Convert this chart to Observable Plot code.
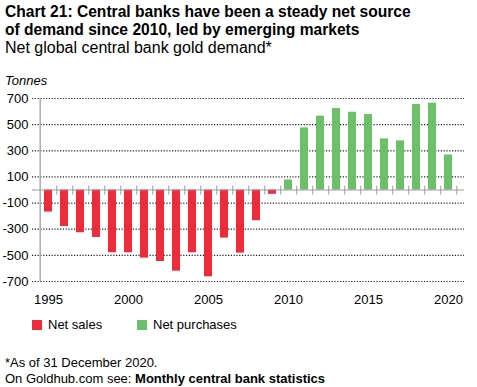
<!DOCTYPE html>
<html><head><meta charset="utf-8">
<script src="https://cdn.jsdelivr.net/npm/d3@7"></script>
<script src="https://cdn.jsdelivr.net/npm/@observablehq/plot@0.6"></script>
<style>
body{margin:0;background:#fff;font-family:"Liberation Sans",Arial,sans-serif;color:#000}
#wrap{position:relative;width:477px;height:387px;overflow:hidden}
.abs{position:absolute;white-space:nowrap}
#title{left:5px;top:3px;font-weight:bold;font-size:15.6px;line-height:17.5px}
#sub{left:5px;top:39px;font-size:16px}
#unit{left:5px;top:73px;font-size:13px;font-style:italic}
#chart{left:0;top:70px}
.leg{font-size:13px;top:317px}
.sw{display:inline-block;width:10px;height:10px;vertical-align:-1px;margin-right:6px}
#foot1{left:5px;top:355px;font-size:13px}
#foot2{left:5px;top:371px;font-size:13px}
</style></head>
<body><div id="wrap">
<div id="title" class="abs">Chart 21: Central banks have been a steady net source<br>of demand since 2010, led by emerging markets</div>
<div id="sub" class="abs">Net global central bank gold demand*</div>
<div id="unit" class="abs">Tonnes</div>
<div id="chart" class="abs"></div>
<div class="abs leg" style="left:32px"><span class="sw" style="background:#ee2a3d"></span>Net sales</div>
<div class="abs leg" style="left:137px"><span class="sw" style="background:#6cc06a"></span>Net purchases</div>
<div id="foot1" class="abs">*As of 31 December 2020.</div>
<div id="foot2" class="abs">On Goldhub.com see: <b>Monthly central bank statistics</b></div>
</div>
<script>
const years = d3.range(1995, 2021);
const demand = [-169,-279,-327,-363,-480,-480,-521,-547,-621,-480,-664,-368,-483,-235,-33,77,475,565,623,595,577,391,376,654,664,268];
const yTicks = [700,500,300,100,-100,-300,-500,-700];
const xLabels = [1995,2000,2005,2010,2015,2020];
const data = years.map((y,i)=>({year:y, value:demand[i]}));

const W = 477, H = 240, mL = 32, mR = 13;
const step = (W - mL - mR) / years.length;
const chart = Plot.plot({
  width: W, height: H,
  marginLeft: mL, marginRight: mR, marginTop: 28, marginBottom: 29,
  style: {fontFamily: '"Liberation Sans", Arial, sans-serif', fontSize: "13px", color: "#000", overflow: "visible"},
  x: {type: "band", domain: years, paddingInner: 0.5, paddingOuter: 0.25, axis: null},
  y: {domain: [-700, 700], axis: null},
  marks: [
    Plot.ruleY(yTicks, {stroke: "#222", strokeWidth: 1.2, strokeDasharray: "1.2,1.6"}),
    Plot.axisY(yTicks, {tickSize: 0, tickPadding: 4, label: null, fontSize: 13, tickFormat: d => String(d)}),
    Plot.barY(data, {x: "year", y: "value", fill: d => d.value < 0 ? "#ee2a3d" : "#6cc06a"}),
    Plot.ruleY([0], {stroke: "#999", strokeWidth: 1.2}),
    Plot.ruleX(years, {x: d => d, dx: step/2, y1: -38, y2: 30, stroke: "#999", strokeWidth: 1}),
    Plot.ruleX([700], {x: () => years[0], dx: -step/2, y1: -700, y2: 700, stroke: "#aaa", strokeWidth: 1.5}),
    Plot.text(xLabels, {x: d => d, y: -700, text: d => String(d), dy: 18, fontSize: 13})
  ]
});
document.getElementById("chart").appendChild(chart);
</script>
</body></html>
